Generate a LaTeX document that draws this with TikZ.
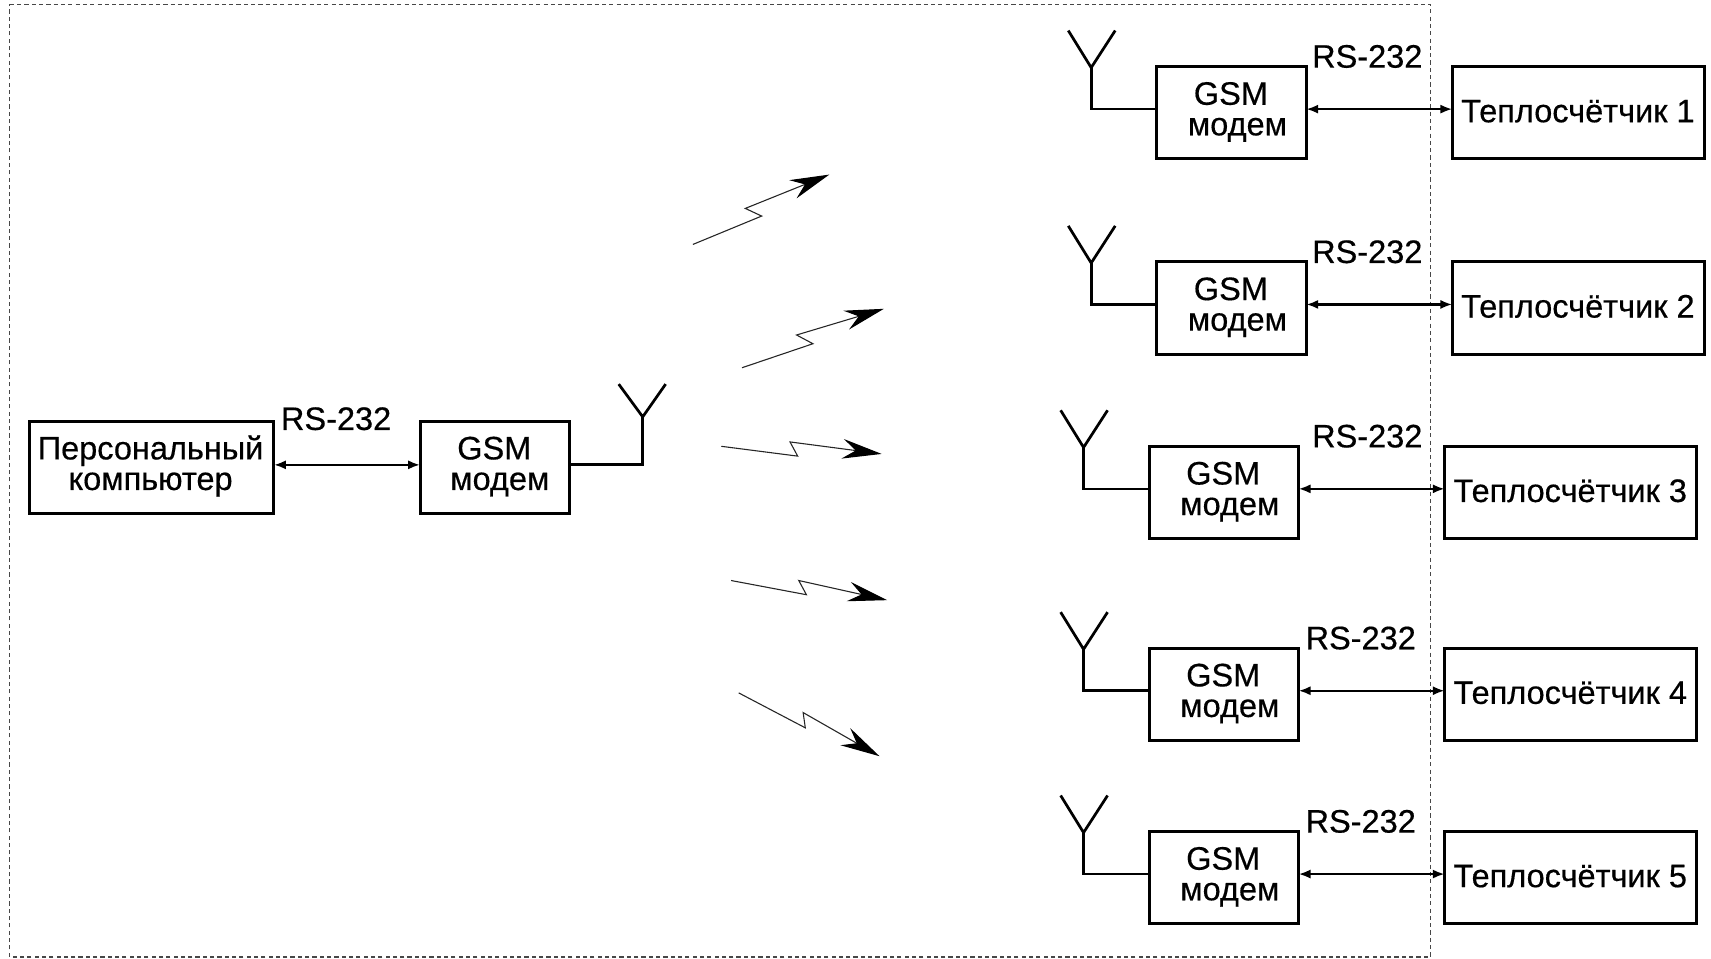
\documentclass[tikz,border=0pt]{standalone}
\usepackage{fontspec}
\setmainfont[FakeBold=0.45]{Liberation Sans}
\usetikzlibrary{arrows.meta}
\tikzset{
  x=0.5pt,y=-0.5pt,
  box/.style={draw=black,line width=1.35pt,inner sep=0pt,outer sep=0pt,fill=white},
  gsmbox/.style={box,minimum width=68.5pt,minimum height=42.25pt},
  meterbox/.style={box,minimum width=115.5pt,minimum height=42.25pt},
  pcbox/.style={box,minimum width=112pt,minimum height=42.25pt},
  lbl/.style={inner sep=0pt,anchor=base,font=\fontsize{14.9pt}{16pt}\selectfont,text=black},
  link/.style={line width=1.1pt,{Latex[length=5.5pt,width=4.2pt]}-{Latex[length=5.5pt,width=4.2pt]}},
  wire/.style={line width=1.25pt,line join=miter},
  frameline/.style={draw=black!72,line width=0.5pt,dash pattern=on 1.9pt off 1.45pt},
  bolt/.style={line width=0.5pt,draw=black!85,-{Stealth[length=18pt,width=9pt,inset=6pt,fill=black,color=black]}}
}
\begin{document}
\begin{tikzpicture}
\useasboundingbox (0,0) rectangle (1568,878);
% dotted frame
\coordinate (f1) at (9,4);
\coordinate (f2) at (1311,4);
\coordinate (f3) at (1311,877);
\coordinate (f4) at (9,877);
\draw[frameline] (f1) -- (f2) -- (f3) -- (f4) -- cycle;
% left side
\node[pcbox] (pc) at (139,428.5) {};
\node[gsmbox] (gsm0) at (453.5,428.5) {};
\node[lbl] (pct1) at (138,421) {Персональный};
\node[lbl] (pct2) at (138,449) {компьютер};
\node[lbl] (g0a) at (453,421) {GSM};
\node[lbl] (g0b) at (458,449) {модем};
\node[lbl] (rs0) at (308,394) {RS-232};
\coordinate (l0) at (0,426);
\draw[link] (pc.east |- l0) -- (gsm0.west |- l0);
\coordinate (c0) at (589,426);
\coordinate (j0) at (589,382);
\coordinate (al0) at (567,352);
\coordinate (ar0) at (610,352);
\draw[wire] (gsm0.east |- l0) -- (c0) -- (j0);
\draw[wire] (al0) -- (j0) -- (ar0);
% right side rows: index / left of GSM box / RS label x / top of box
\foreach \i/\lx/\rx/\ty in {1/1060/1253/61, 2/1060/1253/240, 3/1053/1253/409, 4/1053/1247/594, 5/1053/1247/762}{
  \node[gsmbox] (gsm\i) at (\lx+68.5,\ty+42.25) {};
  \node[meterbox] (m\i) at (\lx+271+115.5,\ty+42.25) {};
  \node[lbl] (ga\i) at (\lx+68,\ty+35) {GSM};
  \node[lbl] (gb\i) at (\lx+74,\ty+63) {модем};
  \node[lbl] (mt\i) at (\lx+386,\ty+51) {Теплосчётчик \i};
  \node[lbl] (rs\i) at (\rx,\ty+1) {RS-232};
  \coordinate (l\i) at (\lx-60,\ty+39);
  \coordinate (j\i) at (\lx-60,\ty+1);
  \coordinate (al\i) at (\lx-81,\ty-33);
  \coordinate (ar\i) at (\lx-38,\ty-33);
  \draw[link] (gsm\i.east |- l\i) -- (m\i.west |- l\i);
  \draw[wire] (gsm\i.west |- l\i) -- (l\i) -- (j\i);
  \draw[wire] (al\i) -- (j\i) -- (ar\i);
}
% radio bolts
\coordinate (b1s) at (635,224); \coordinate (b1a) at (698,198); \coordinate (b1b) at (683,191); \coordinate (b1t) at (760,160);
\coordinate (b2s) at (680,337); \coordinate (b2a) at (745,315); \coordinate (b2b) at (730,307); \coordinate (b2t) at (810,283);
\coordinate (b3s) at (661,409); \coordinate (b3a) at (731,418); \coordinate (b3b) at (724,405); \coordinate (b3t) at (808,416);
\coordinate (b4s) at (670,532); \coordinate (b4a) at (739,545); \coordinate (b4b) at (732,532); \coordinate (b4t) at (813,550);
\coordinate (b5s) at (677,635); \coordinate (b5a) at (738,667); \coordinate (b5b) at (736,653); \coordinate (b5t) at (806,693);
\foreach \k in {1,...,5}{
  \draw[bolt] (b\k s) -- (b\k a) -- (b\k b) -- (b\k t);
}
\end{tikzpicture}
\end{document}
